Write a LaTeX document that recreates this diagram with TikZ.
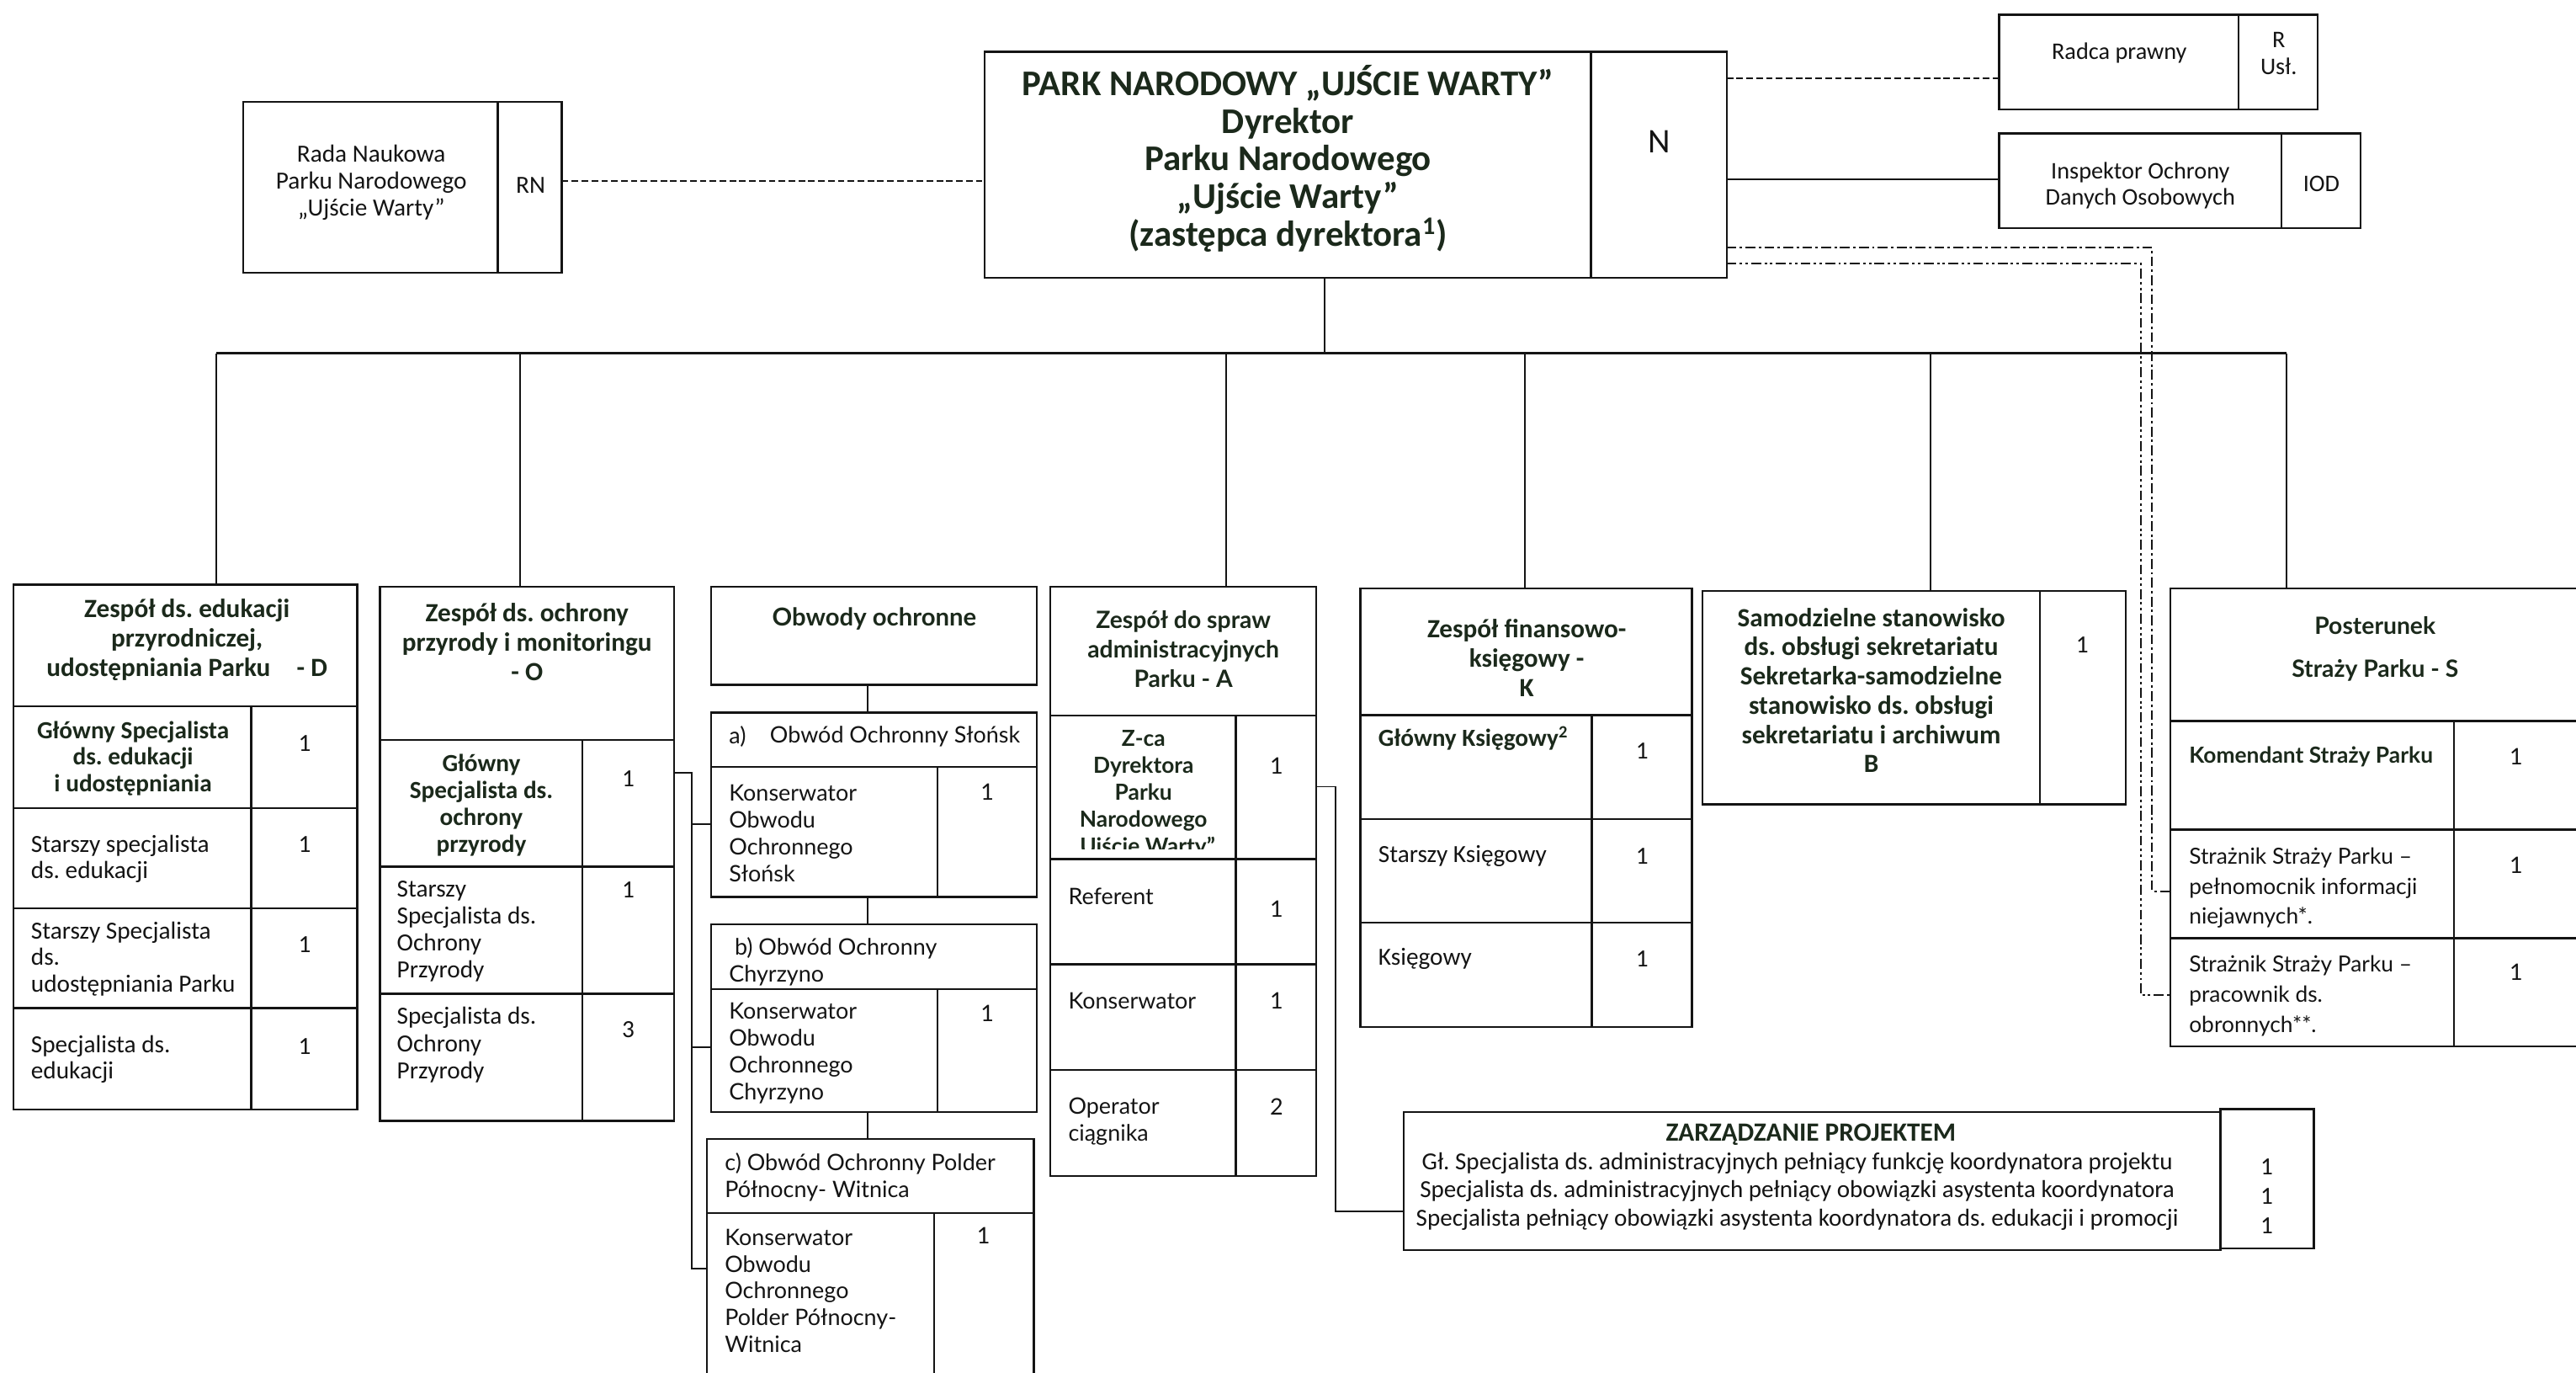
\documentclass[tikz,border=0pt]{standalone}
\usepackage{fontspec}
\setmainfont{Carlito}
\newfontfamily\lato{Lato}
\usetikzlibrary{calc}
\frenchspacing
\definecolor{ink}{HTML}{141414}
\definecolor{hd}{HTML}{1B291B}
\newcommand\fs[2]{\fontsize{#1}{#2}\selectfont}
\tikzset{
  bx/.style={draw=ink, line width=1.25pt, inner sep=0pt, outer sep=0pt},
  ln/.style={draw=ink, line width=1pt},
  dsh/.style={draw=ink, line width=1pt, dash pattern=on 4pt off 2pt},
  dd/.style={draw=ink, line width=0.9pt, dash pattern=on 6pt off 2pt on 1.5pt off 2pt},
  ddd/.style={draw=ink, line width=0.9pt, dash pattern=on 6pt off 2pt on 1.5pt off 2pt on 1.5pt off 2pt},
  t/.style={inner sep=0pt, outer sep=0pt, text=ink, align=center, font=\fs{15}{16}},
  tl/.style={t, align=left, anchor=west},
  hb/.style={text=hd, font=\bfseries\fs{16}{18}},
  cb/.style={text=hd, font=\bfseries\fs{15}{16}},
  lat/.style={font=\lato\fs{13.8}{16.3}},
  latb/.style={text=hd, font=\lato\bfseries\fs{15}{18}},
}
\newcommand\bx[5]{\node[bx, minimum width={(#4-#2)*1pt}, minimum height={(#5-#3)*1pt}] (#1) at ({(#2+#4)/2},{(#3+#5)/2}) {};}
\begin{document}
\begin{tikzpicture}[x=1pt,y=-1pt]
\useasboundingbox (0,0) rectangle (1568,835);
\clip (0,0) rectangle (1568,835);
\fill[white] (0,0) rectangle (1568,835);

% ---------- top row ----------
\bx{rada}{148}{62}{303}{166}
\bx{radaRN}{303}{62}{342}{166}
\node[t, font=\fs{15}{16.5}] (radaT) at (226,111) {Rada Naukowa\\Parku Narodowego\\„Ujście Warty”};
\node[t, font=\fs{15}{16.5}] (rnT) at (323,112.7) {RN};

\bx{dir}{599.4}{31.6}{968.5}{169}
\bx{dirN}{968.5}{31.6}{1051}{169}
\node[t, text=hd, font=\bfseries\fs{22}{23}] (dirT) at (784,96.5) {PARK NARODOWY „UJŚCIE WARTY”\\Dyrektor\\Parku Narodowego\\„Ujście Warty”\\(zastępca dyrektora\textsuperscript{1})};
\node[t, font=\fs{21}{23}] (nT) at (1010,86.3) {N};

\bx{radca}{1216.8}{8.9}{1362.7}{66.6}
\bx{radcaR}{1362.7}{8.9}{1410.7}{66.6}
\node[t, font=\fs{14.5}{16.5}] (radcaT) at (1290,32.4) {Radca prawny};
\node[t, font=\fs{14.5}{16.5}] (radcaRT) at (1387,32.5) {R\\Usł.};

\bx{iod}{1216.8}{81.1}{1388.7}{138.7}
\bx{iodI}{1388.7}{81.1}{1436.9}{138.7}
\node[t, font=\fs{14.5}{16}] (iodT) at (1302.8,113) {Inspektor Ochrony\\Danych Osobowych};
\node[t, font=\fs{14.5}{16}] (iodIT) at (1413,111.8) {IOD};

% ---------- D ----------
\bx{Dh}{8.3}{355.8}{217.5}{429.7}
\node[t, hb] (DhT) at (113.8,389.5) {Zespół ds. edukacji\\przyrodniczej,\\udostępniania Parku\quad - D};
\bx{D1}{8.3}{429.7}{153}{491.8}  \bx{D1n}{153}{429.7}{217.5}{491.8}
\bx{D2}{8.3}{491.8}{153}{552.6}  \bx{D2n}{153}{491.8}{217.5}{552.6}
\bx{D3}{8.3}{552.6}{153}{613.4}  \bx{D3n}{153}{552.6}{217.5}{613.4}
\bx{D4}{8.3}{613.4}{153}{675}    \bx{D4n}{153}{613.4}{217.5}{675}
\node[t, cb] (D1T) at (81,461.5) {Główny Specjalista\\ds. edukacji\\i udostępniania};
\node[t] (D1N) at (185.5,452.4) {1};
\node[tl] (D2T) at (18.9,522.5) {Starszy specjalista\\ds. edukacji};
\node[t] (D2N) at (185.5,514) {1};
\node[tl] (D3T) at (18.9,583.5) {Starszy Specjalista\\ds.\\udostępniania Parku};
\node[t] (D3N) at (185.5,575) {1};
\node[tl] (D4T) at (18.9,644.5) {Specjalista ds.\\edukacji};
\node[t] (D4N) at (185.5,637) {1};

% ---------- O ----------
\bx{Oh}{231.3}{356.9}{410.2}{450.3}
\node[t, hb] (OhT) at (320.8,390.5) {Zespół ds. ochrony\\przyrody i monitoringu\\- O};
\bx{O1}{231.3}{450.3}{354.6}{527.4}  \bx{O1n}{354.6}{450.3}{410.2}{527.4}
\bx{O2}{231.3}{527.4}{354.6}{604.6}  \bx{O2n}{354.6}{527.4}{410.2}{604.6}
\bx{O3}{231.3}{604.6}{354.6}{682}    \bx{O3n}{354.6}{604.6}{410.2}{682}
\node[t, cb, font=\bfseries\fs{15}{16.4}] (O1T) at (293,490) {Główny\\Specjalista ds.\\ochrony\\przyrody};
\node[t] (O1N) at (382.4,473.7) {1};
\node[tl, font=\fs{15}{16.4}] (O2T) at (241.6,566.5) {Starszy\\Specjalista ds.\\Ochrony\\Przyrody};
\node[t] (O2N) at (382.4,541.5) {1};
\node[tl, font=\fs{15}{16.4}] (O3T) at (241.6,635.8) {Specjalista ds.\\Ochrony\\Przyrody};
\node[t] (O3N) at (382.4,626.5) {3};

% ---------- Obwody ----------
\bx{Obh}{432.8}{357}{631.2}{416.6}
\node[t, latb] (ObhT) at (532.2,376.3) {Obwody ochronne};
\bx{Oa}{432.8}{433.7}{631.2}{466.7}
\node[tl, lat] (OaT1) at (443.8,448) {a)};
\node[tl, lat] (OaT2) at (468.7,448) {Obwód Ochronny Słońsk};
\bx{Oa1}{432.8}{466.7}{570.6}{545.8}  \bx{Oa1n}{570.6}{466.7}{631.2}{545.8}
\node[tl, lat] (Oa1T) at (443.8,507) {Konserwator\\Obwodu\\Ochronnego\\Słońsk};
\node[t, lat] (Oa1N) at (601,481.8) {1};
\bx{Ob}{432.8}{562.5}{631.2}{602}
\node[tl, lat] (ObT1) at (447.2,577) {b) Obwód Ochronny};
\node[tl, lat] (ObT2) at (443.8,593.6) {Chyrzyno};
\bx{Ob1}{432.8}{602}{570.6}{676.7}  \bx{Ob1n}{570.6}{602}{631.2}{676.7}
\node[tl, lat] (Ob1T) at (443.8,641) {Konserwator\\Obwodu\\Ochronnego\\Chyrzyno};
\node[t, lat] (Ob1N) at (601,616.6) {1};
\bx{Oc}{430.2}{693}{629.4}{738}
\node[tl, lat] (OcT) at (441.2,716.5) {c) Obwód Ochronny Polder\\Północny- Witnica};
\bx{Oc1}{430.2}{738}{568.5}{850}  \bx{Oc1n}{568.5}{738}{629.4}{850}
\node[tl, lat] (Oc1T) at (441.2,785.5) {Konserwator\\Obwodu\\Ochronnego\\Polder Północny-\\Witnica};
\node[t, lat] (Oc1N) at (598.6,752) {1};

% ---------- A ----------
\bx{Ah}{639.4}{357}{801.1}{435.3}
\node[t, latb, font=\lato\bfseries\fs{14.5}{18}] (AhT) at (720.3,395) {Zespół do spraw\\administracyjnych\\Parku - A};
\bx{A1}{639.4}{435.3}{752.3}{522.8}  \bx{A1n}{752.3}{435.3}{801.1}{522.8}
\bx{A2}{639.4}{522.8}{752.3}{586.7}  \bx{A2n}{752.3}{522.8}{801.1}{586.7}
\bx{A3}{639.4}{586.7}{752.3}{651}    \bx{A3n}{752.3}{586.7}{801.1}{651}
\bx{A4}{639.4}{651}{752.3}{715.6}    \bx{A4n}{752.3}{651}{801.1}{715.6}
\begin{scope}
\clip (640,436) rectangle (751.7,516.5);
\node[t, text=hd, font=\lato\bfseries\fs{13.5}{16.3}] (A1T) at (696,483.2) {Z-ca\\Dyrektora\\Parku\\Narodowego\\„Ujście Warty”};
\end{scope}
\node[t, lat] (A1N) at (777,466) {1};
\node[tl, lat] (A2T) at (650.3,545.5) {Referent};
\node[t, lat] (A2N) at (777,553.3) {1};
\node[tl, lat] (A3T) at (650.3,609) {Konserwator};
\node[t, lat] (A3N) at (777,609) {1};
\node[tl, lat] (A4T) at (650.3,682.5) {Operator\\ciągnika};
\node[t, lat] (A4N) at (777,673.7) {2};

% ---------- K ----------
\bx{Kh}{828}{358}{1029.9}{435.2}
\node[t, hb, font=\bfseries\fs{16}{17.8}] (KhT) at (929.3,400.3) {Zespół finansowo-\\księgowy -\\K};
\bx{K1}{828}{435.2}{968.8}{498.4}  \bx{K1n}{968.8}{435.2}{1029.9}{498.4}
\bx{K2}{828}{498.4}{968.8}{561.5}  \bx{K2n}{968.8}{498.4}{1029.9}{561.5}
\bx{K3}{828}{561.5}{968.8}{624.8}  \bx{K3n}{968.8}{561.5}{1029.9}{624.8}
\node[tl, cb] (K1T) at (839,449.4) {Główny Księgowy\textsuperscript{2}};
\node[t] (K1N) at (999.6,457.2) {1};
\node[tl] (K2T) at (839,521) {Starszy Księgowy};
\node[t] (K2N) at (999.6,521) {1};
\node[tl] (K3T) at (839,583.5) {Księgowy};
\node[t] (K3N) at (999.6,583.5) {1};

% ---------- B ----------
\bx{B}{1036.3}{359.7}{1241.8}{489.5}
\bx{Bn}{1241.8}{359.7}{1294}{489.5}
\node[t, hb, font=\bfseries\fs{16}{17.8}] (BT) at (1139,420) {Samodzielne stanowisko\\ds. obsługi sekretariatu\\Sekretarka-samodzielne\\stanowisko ds. obsługi\\sekretariatu i archiwum\\B};
\node[t] (BN) at (1267.5,392.4) {1};

% ---------- S ----------
\bx{Sh}{1321}{358.2}{1575}{438.7}
\node[t, latb, font=\lato\bfseries\fs{14.5}{26.3}] (ShT) at (1445.7,395) {Posterunek\\Straży Parku - S};
\bx{S1}{1321}{438.7}{1493.7}{504.8}  \bx{S1n}{1493.7}{438.7}{1575}{504.8}
\bx{S2}{1321}{504.8}{1493.7}{570.9}  \bx{S2n}{1493.7}{504.8}{1575}{570.9}
\bx{S3}{1321}{570.9}{1493.7}{636.7}  \bx{S3n}{1493.7}{570.9}{1575}{636.7}
\node[tl, text=hd, font=\lato\bfseries\fs{13.5}{18}] (S1T) at (1332.5,460.4) {Komendant Straży Parku};
\node[t, lat] (S1N) at (1531.6,460.4) {1};
\node[tl, font=\lato\fs{13.5}{18.2}] (S2T) at (1332.5,540.5) {Strażnik Straży Parku –\\pełnomocnik informacji\\niejawnych*.};
\node[t, lat] (S2N) at (1531.6,526.4) {1};
\node[tl, font=\lato\fs{13.5}{18.2}] (S3T) at (1332.5,606) {Strażnik Straży Parku –\\pracownik ds.\\obronnych**.};
\node[t, lat] (S3N) at (1531.6,591.4) {1};

% ---------- Zarzadzanie ----------
\bx{zp}{854.4}{676.6}{1351.5}{760.8}
\bx{zpn}{1351.5}{674.9}{1408.5}{759.6}
\node[t, text=hd, font=\bfseries\fs{16}{17}] (zpT) at (1102.3,690.5) {ZARZĄDZANIE PROJEKTEM};
\node[t, font=\fs{14.9}{17}] (zpL) at (1094,725) {Gł. Specjalista ds. administracyjnych pełniący funkcję koordynatora projektu\\Specjalista ds. administracyjnych pełniący obowiązki asystenta koordynatora\\Specjalista pełniący obowiązki asystenta koordynatora ds. edukacji i promocji};
\node[t, font=\fs{15}{18}] (zpN) at (1379.8,728) {1\\1\\1};

% ---------- connectors ----------
\coordinate (yR) at (0,110);
\draw[dsh] (radaRN.east |- yR) -- (dir.west |- yR);
\coordinate (yRp) at (0,47.5);
\draw[dsh] (dirN.east |- yRp) -- (radca.west |- yRp);
\coordinate (yI) at (0,109.3);
\draw[ln] (dirN.east |- yI) -- (iod.west |- yI);
\coordinate (c1a) at (1310,150.6);
\coordinate (c1b) at (1310,542.3);
\draw[dd] (dirN.east |- c1a) -- (c1a) -- (c1b) -- (S2.west |- c1b);
\coordinate (c2a) at (1303,160.5);
\coordinate (c2b) at (1303,605.5);
\draw[ddd] (dirN.east |- c2a) -- (c2a) -- (c2b) -- (S3.west |- c2b);

\coordinate (busL) at (131.6,215);
\coordinate (busR) at (1392,215);
\coordinate (dirDrop) at (806.5,0);
\draw[ln] (dirDrop |- dir.south) -- (dirDrop |- busL);
\draw[ln, line width=1.5pt] (busL) -- (busR);
\foreach \n/\x in {Dh/131.6, Oh/316.8, Ah/746.5, Kh/928, B/1175, Sh/1392}{
  \coordinate (xc) at (\x,0);
  \draw[ln] (xc |- busL) -- (xc |- \n.north);
}

\coordinate (xo) at (528.2,0);
\draw[ln] (xo |- Obh.south) -- (xo |- Oa.north);
\draw[ln] (xo |- Oa1.south) -- (xo |- Ob.north);
\draw[ln] (xo |- Ob1.south) -- (xo |- Oc.north);

\coordinate (br1) at (421,470);
\coordinate (br2) at (421,772);
\coordinate (br3) at (421,501.4);
\coordinate (br4) at (421,637);
\draw[ln] (O1n.east |- br1) -- (br1) -- (br2) -- (Oc1.west |- br2);
\draw[ln] (br3) -- (Oa1.west |- br3);
\draw[ln] (br4) -- (Ob1.west |- br4);

\coordinate (ar1) at (813,478.7);
\coordinate (ar2) at (813,737.3);
\draw[ln] (A1n.east |- ar1) -- (ar1) -- (ar2) -- (zp.west |- ar2);
\end{tikzpicture}
\end{document}
